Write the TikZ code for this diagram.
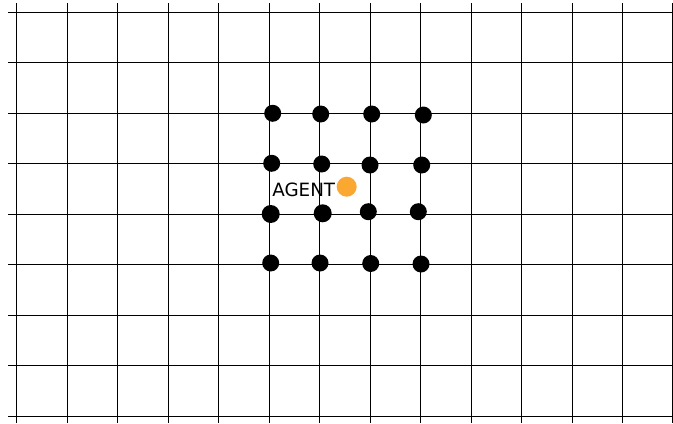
\documentclass[tikz,border=0pt]{standalone}
\usepackage{fontspec}
\setsansfont{DejaVu Sans}
\usetikzlibrary{positioning}
\definecolor{agentorange}{RGB}{251,168,50}

\begin{document}
\begin{tikzpicture}[x=0.5pt,y=-0.5pt]
    \useasboundingbox (0,0) rectangle (673,423);

    % world grid
    \foreach \gx in {16.5,67.5,117.5,168.5,218.5,269.5,319.5,370.5,420.5,471.5,521.5,572.5,622.5,672.5}
      \draw[line width=0.6pt] (\gx,3) -- (\gx,423);
    \foreach \gy in {12.5,62.5,113.5,163.5,214.5,264.5,315.5,365.5,416.5}
      \draw[line width=0.6pt] (8,\gy) -- (673,\gy);

    % sensed points around the agent
    \foreach \x/\y/\r in {272.7/113.3/8.5, 320.7/114/8.5, 371.7/114/8.5, 423.3/115/8.5,
                          271.7/163.3/8.5, 321.7/164/8.5, 370/165/8.5, 421.7/165/8.5,
                          270.7/214/9, 322.7/213.3/9, 368.3/211.7/8.5, 418.3/211.7/8.5,
                          270.7/263/8.5, 320/263/8.5, 370.7/263.5/8.5, 421/264/8.5}
      \fill (\x,\y) circle[radius=\r];

    % agent
    \node[circle, fill=agentorange, inner sep=0pt, minimum size=10pt] (agent) at (346.7,186.7) {};
    \node[anchor=base east, inner sep=0pt, font=\sffamily\fontsize{9.15}{11}\selectfont] (agentlabel) at (335.5,196.7) {AGENT};
\end{tikzpicture}
\end{document}
